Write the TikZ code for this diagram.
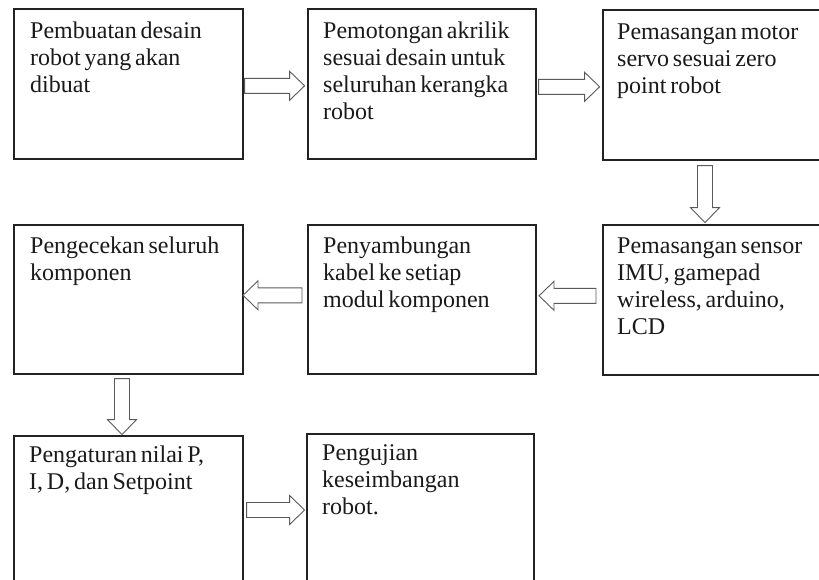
\documentclass[tikz,border=0pt]{standalone}
\usepackage{fontspec}
\setmainfont{Liberation Serif}
\usetikzlibrary{calc}
\definecolor{boxline}{HTML}{222222}
\definecolor{arrline}{HTML}{5A5A5A}
\definecolor{ink}{HTML}{1A1A1A}
\tikzset{
  stepbox/.style={draw=boxline, line width=1.6pt, rectangle, anchor=north west, inner sep=0pt},
  steptext/.style={anchor=base west, inner sep=0pt, text=ink, font=\fontsize{24}{27}\selectfont},
  blockarrow/.pic={
    \draw[draw=arrline, line width=0.9pt, fill=white, line join=miter]
      (0,-7.5) -- (#1-15,-7.5) -- (#1-15,-14.5) -- (#1,0) -- (#1-15,14.5) -- (#1-15,7.5) -- (0,7.5) -- cycle;
  }
}
\newcommand{\boxtext}[1]{\parbox[t]{210pt}{\raggedright\spaceskip=3.8pt plus 1pt minus 1pt\relax #1}}
\begin{document}
\begin{tikzpicture}[x=1pt,y=-1pt]
\useasboundingbox (0,0) rectangle (819,579);
\clip (0,0) rectangle (819,579);
\fill[white] (0,0) rectangle (819,579);
% boxes
\node[stepbox, minimum width=229pt, minimum height=150pt] (b1) at (13,8) {};
\node[stepbox, minimum width=228pt, minimum height=150pt] (b2) at (307,8) {};
\node[stepbox, minimum width=230pt, minimum height=150pt] (b3) at (602,9) {};
\node[stepbox, minimum width=229pt, minimum height=149pt] (b4) at (13,224) {};
\node[stepbox, minimum width=228pt, minimum height=149pt] (b5) at (307,224) {};
\node[stepbox, minimum width=230pt, minimum height=150pt] (b6) at (602,224) {};
\node[stepbox, minimum width=229pt, minimum height=170pt] (b7) at (13,435) {};
\node[stepbox, minimum width=227pt, minimum height=170pt] (b8) at (306,433) {};
% texts
\node[steptext] (t1) at ($(b1.north west)+(17,30)$) {\boxtext{Pembuatan desain\\robot yang akan\\dibuat}};
\node[steptext] (t2) at ($(b2.north west)+(16,30)$) {\boxtext{Pemotongan akrilik\\sesuai desain untuk\\seluruhan kerangka\\robot}};
\node[steptext] (t3) at ($(b3.north west)+(15,30)$) {\boxtext{Pemasangan motor\\servo sesuai zero\\point robot}};
\node[steptext] (t4) at ($(b4.north west)+(17,29)$) {\boxtext{Pengecekan seluruh\\komponen}};
\node[steptext] (t5) at ($(b5.north west)+(16,29)$) {\boxtext{Penyambungan\\kabel ke setiap\\modul komponen}};
\node[steptext] (t6) at ($(b6.north west)+(15,29)$) {\boxtext{Pemasangan sensor\\IMU, gamepad\\wireless, arduino,\\LCD}};
\node[steptext] (t7) at ($(b7.north west)+(16,27)$) {\boxtext{Pengaturan nilai P,\\I, D, dan Setpoint}};
\node[steptext] (t8) at ($(b8.north west)+(16,27)$) {\boxtext{Pengujian\\keseimbangan\\robot.}};
% block arrows between steps
\pic at ($(b1.east)+(1,2)$) {blockarrow=60};
\pic at ($(b2.east)+(2,3)$) {blockarrow=61};
\pic[rotate=-90] at ($(b3.south west)+(103,5)$) {blockarrow=57};
\pic[rotate=180] at ($(b6.west)+(-6,-4)$) {blockarrow=57};
\pic[rotate=180] at ($(b5.west)+(-5,-4)$) {blockarrow=59};
\pic[rotate=-90] at ($(b4.south west)+(109,4)$) {blockarrow=56};
\pic at ($(b7.north east)+(3,75)$) {blockarrow=58};
\end{tikzpicture}
\end{document}
